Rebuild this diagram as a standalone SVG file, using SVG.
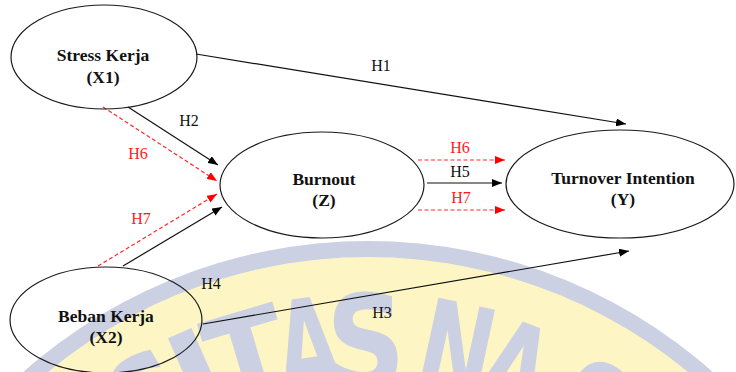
<svg xmlns="http://www.w3.org/2000/svg" width="736" height="372" viewBox="0 0 736 372">
  <style>
    .node { fill: none; stroke: #1a1a1a; stroke-width: 1.2; }
    .title { font-family: "Liberation Serif", "Times New Roman", serif; font-weight: bold; font-size: 17.5px; fill: #111; text-anchor: middle; }
    .lbl { font-family: "Liberation Serif", "Times New Roman", serif; font-size: 16px; fill: #111; text-anchor: middle; }
    .lbl-red { fill: #ff1a1a; }
    .solid { fill: none; stroke: #111; stroke-width: 1.2; }
    .dash { fill: none; stroke: #ff2a2a; stroke-width: 1.2; stroke-dasharray: 4 2.5; }
    .wm { font-family: "DejaVu Sans", "Liberation Sans", sans-serif; font-weight: bold; font-size: 130px; fill: #ccd0e3; text-anchor: middle; }
  </style>
  <defs>
    <marker id="ab" viewBox="0 0 10 8" refX="10" refY="4" markerWidth="10" markerHeight="8" markerUnits="userSpaceOnUse" orient="auto">
      <path d="M0,0 L10,4 L0,8 z" fill="#000"/>
    </marker>
    <marker id="ar" viewBox="0 0 10 8" refX="10" refY="4" markerWidth="10" markerHeight="8" markerUnits="userSpaceOnUse" orient="auto">
      <path d="M0,0 L10,4 L0,8 z" fill="#ff0000"/>
    </marker>
  </defs>
  <rect x="0" y="0" width="736" height="372" fill="#ffffff"/>

  <g id="watermark">
    <circle cx="368" cy="760" r="519" fill="#ccd0e3"/>
    <circle cx="368" cy="760" r="503" fill="#fdf6c4"/>
    <text class="wm" transform="rotate(-31 368 760) translate(368 388) scale(0.8 1)">S</text>
    <text class="wm" transform="rotate(-23.8 368 760) translate(368 388) scale(1.05 1)">I</text>
    <text class="wm" transform="rotate(-16.6 368 760) translate(368 388) scale(0.9 1)">T</text>
    <text class="wm" transform="rotate(-8.3 368 760) translate(368 388) scale(0.62 1)">A</text>
    <text class="wm" transform="rotate(-0.3 368 760) translate(368 388) scale(0.85 1)">S</text>
    <text class="wm" transform="rotate(12.2 368 760) translate(368 388) scale(0.68 1)">N</text>
    <text class="wm" transform="rotate(20.6 368 760) translate(368 390) scale(0.64 1)">A</text>
    <text class="wm" transform="rotate(32.5 368 760) translate(368 392) scale(0.8 1)">S</text>
  </g>

  <g id="connectors">
    <path id="c-h1" class="solid" d="M196,54 L626,124" marker-end="url(#ab)"/>
    <path id="c-h2" class="solid" d="M128,107 L218,165" marker-end="url(#ab)"/>
    <path id="c-h6a" class="dash" d="M103,107 L217,181" marker-end="url(#ar)"/>
    <path id="c-h7a" class="dash" d="M98,266 L217,194" marker-end="url(#ar)"/>
    <path id="c-h4" class="solid" d="M123,266 L222,207" marker-end="url(#ab)"/>
    <path id="c-h3" class="solid" d="M203,324 L629,251" marker-end="url(#ab)"/>
    <path id="c-h6b" class="dash" d="M418,160 L505,160" marker-end="url(#ar)"/>
    <path id="c-h5" class="solid" d="M427,183 L502,183" marker-end="url(#ab)"/>
    <path id="c-h7b" class="dash" d="M418,210 L505,210" marker-end="url(#ar)"/>
    <text class="lbl" x="381" y="71">H1</text>
    <text class="lbl" x="189" y="126">H2</text>
    <text class="lbl lbl-red" x="138" y="159">H6</text>
    <text class="lbl lbl-red" x="141" y="224">H7</text>
    <text class="lbl" x="211" y="289">H4</text>
    <text class="lbl" x="382" y="318">H3</text>
    <text class="lbl lbl-red" x="460" y="153">H6</text>
    <text class="lbl" x="460" y="177">H5</text>
    <text class="lbl lbl-red" x="461" y="203">H7</text>
  </g>

  <g id="node-x1">
    <ellipse class="node" cx="104" cy="57" rx="93" ry="52"/>
    <text class="title" x="103" y="61">Stress Kerja</text>
    <text class="title" x="103" y="83">(X1)</text>
  </g>
  <g id="node-z">
    <ellipse class="node" cx="322" cy="185" rx="102" ry="53"/>
    <text class="title" x="324" y="185">Burnout</text>
    <text class="title" x="324" y="206">(Z)</text>
  </g>
  <g id="node-y">
    <ellipse class="node" cx="620" cy="184" rx="114" ry="54"/>
    <text class="title" x="623" y="184">Turnover Intention</text>
    <text class="title" x="623" y="205">(Y)</text>
  </g>
  <g id="node-x2">
    <ellipse class="node" cx="106" cy="320" rx="96" ry="53"/>
    <text class="title" x="106" y="322">Beban Kerja</text>
    <text class="title" x="106" y="343">(X2)</text>
  </g>
</svg>
